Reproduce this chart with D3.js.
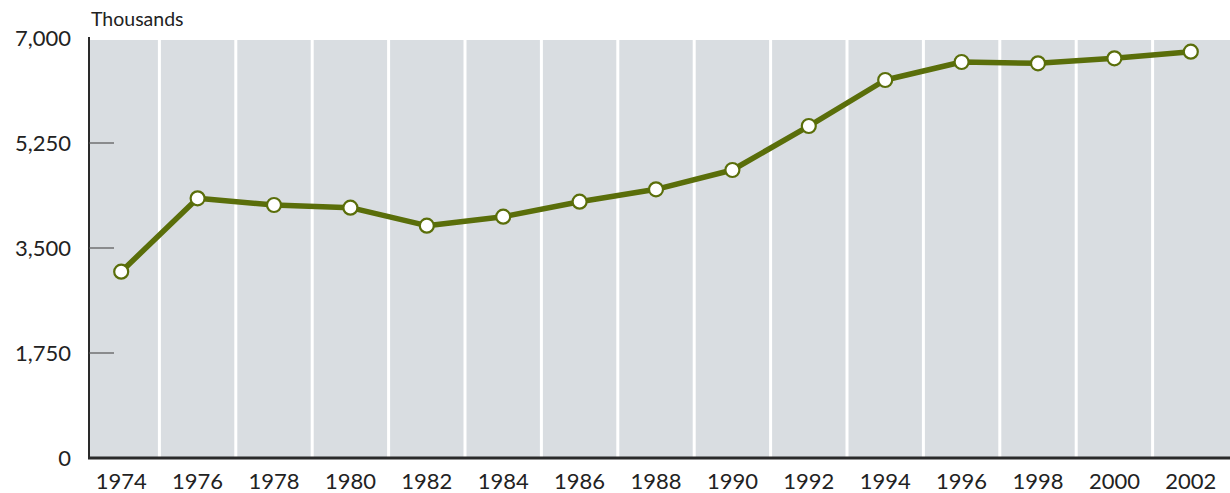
<!DOCTYPE html>
<html>
<head>
<meta charset="utf-8">
<script src="https://cdn.jsdelivr.net/npm/d3@7"></script>
<style>
  html, body { margin: 0; padding: 0; background: #ffffff; }
  svg { display: block; font-family: "Lato", "Open Sans", sans-serif; }
</style>
</head>
<body>
<svg id="chart" width="1230" height="493"></svg>
<script>
const years = ["1974","1976","1978","1980","1982","1984","1986","1988","1990","1992","1994","1996","1998","2000","2002"];
const values = [3105, 4328, 4217, 4172, 3872, 4022, 4272, 4478, 4800, 5533, 6300, 6600, 6578, 6661, 6772];
const yTicks = [0, 1750, 3500, 5250, 7000];
const unitLabel = "Thousands";

const svg = d3.select("#chart");
const plot = { left: 89, right: 1230, top: 40, bottom: 458 };

const x = d3.scaleBand().domain(years).range([83, 1229]).paddingInner(0).paddingOuter(0);
const y = d3.scaleLinear().domain([0, 7000]).range([plot.bottom, 38]);

// background
svg.append("rect")
  .attr("x", plot.left).attr("y", plot.top)
  .attr("width", plot.right - plot.left).attr("height", plot.bottom - plot.top)
  .attr("fill", "#d9dde1");

// white separators between year bands
svg.append("g").selectAll("line")
  .data(years.slice(1))
  .join("line")
  .attr("x1", d => x(d)).attr("x2", d => x(d))
  .attr("y1", plot.top).attr("y2", plot.bottom)
  .attr("stroke", "#ffffff").attr("stroke-width", 3);

// y axis
const yAxis = svg.append("g");
yAxis.append("line")
  .attr("x1", plot.left).attr("x2", plot.left)
  .attr("y1", 37).attr("y2", plot.bottom)
  .attr("stroke", "#2a2a2a").attr("stroke-width", 2);
yAxis.selectAll("line.tick")
  .data(yTicks.filter(t => t > 0 && t < 7000))
  .join("line").attr("class", "tick")
  .attr("x1", plot.left).attr("x2", plot.left + 25)
  .attr("y1", d => y(d)).attr("y2", d => y(d))
  .attr("stroke", "#555555").attr("stroke-width", 1.2);
yAxis.selectAll("text")
  .data(yTicks)
  .join("text")
  .attr("x", 71).attr("y", d => y(d))
  .attr("dy", "0.35em")
  .attr("text-anchor", "end")
  .attr("font-size", 22)
  .attr("fill", "#222222")
  .text(d => d3.format(",")(d));

svg.append("text")
  .attr("x", 91).attr("y", 26)
  .attr("font-size", 19.5)
  .attr("fill", "#222222")
  .text(unitLabel);

// x axis baseline
svg.append("line")
  .attr("x1", plot.left - 1).attr("x2", plot.right)
  .attr("y1", plot.bottom).attr("y2", plot.bottom)
  .attr("stroke", "#2a2a2a").attr("stroke-width", 3);

svg.append("g").selectAll("text")
  .data(years)
  .join("text")
  .attr("x", d => x(d) + x.bandwidth() / 2)
  .attr("y", 489)
  .attr("text-anchor", "middle")
  .attr("font-size", 22)
  .attr("fill", "#222222")
  .text(d => d);

// line
const data = years.map((yr, i) => ({ yr, v: values[i] }));
const line = d3.line().x(d => x(d.yr) + x.bandwidth() / 2).y(d => y(d.v));
svg.append("path")
  .datum(data)
  .attr("d", line)
  .attr("fill", "none")
  .attr("stroke", "#5a6e0a")
  .attr("stroke-width", 5.5)
  .attr("stroke-linejoin", "round");

svg.append("g").selectAll("circle")
  .data(data)
  .join("circle")
  .attr("cx", d => x(d.yr) + x.bandwidth() / 2)
  .attr("cy", d => y(d.v))
  .attr("r", 7)
  .attr("fill", "#ffffff")
  .attr("stroke", "#5a6e0a")
  .attr("stroke-width", 2.2);
</script>
</body>
</html>
